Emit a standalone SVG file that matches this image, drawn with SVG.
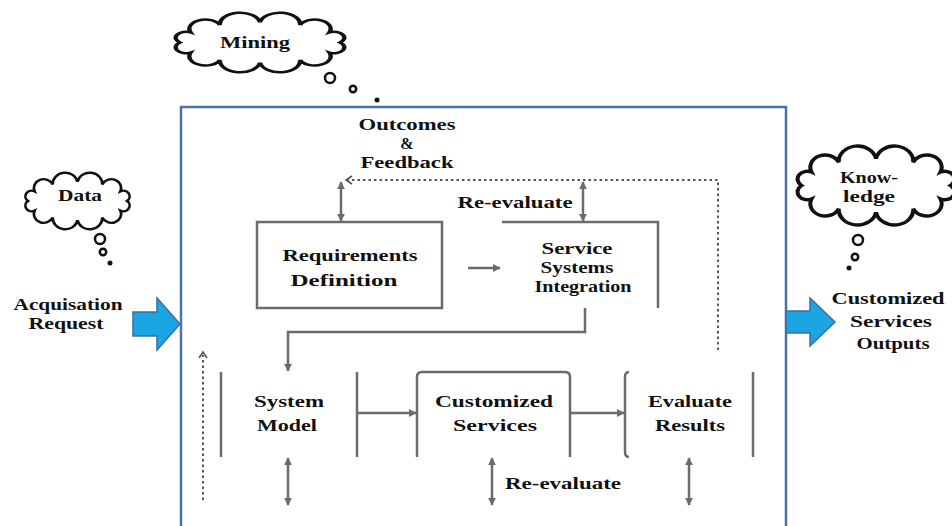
<svg xmlns="http://www.w3.org/2000/svg" width="952" height="526" viewBox="0 0 952 526">
<defs>
<style>
text { font-family: "Liberation Serif", "Times New Roman", serif; font-weight: bold; font-size: 17px; fill: #111; text-anchor: middle; }
text.s { font-size: 16px; }
.cloud { fill: #fff; stroke: #111; stroke-width: 2.5; vector-effect: non-scaling-stroke; }
.ln { fill: none; stroke: #6b6b6b; stroke-width: 2.5; }
.dot { fill: none; stroke: #555; stroke-width: 2; stroke-dasharray: 2.5 3; }
.chev { fill: none; stroke: #555; stroke-width: 1.6; }
.bub { fill: #fff; stroke: #111; stroke-width: 2.5; }
.bubf { fill: #111; }
.blue { fill: #1ba5e2; stroke: #3b6ea5; stroke-width: 1.5; }
.frame { fill: none; stroke: #4a72ad; stroke-width: 2.5; }
</style>
<path id="cloudShape" d="M46,0 A5.9,5.9 0 0 1 39.8,10 A9.1,9.1 0 0 1 23,17.3 A11.6,11.6 0 0 1 0,20 A11.6,11.6 0 0 1 -23,17.3 A9.1,9.1 0 0 1 -39.8,10 A5.9,5.9 0 0 1 -46,0 A5.9,5.9 0 0 1 -39.8,-10 A9.1,9.1 0 0 1 -23,-17.3 A11.6,11.6 0 0 1 0,-20 A11.6,11.6 0 0 1 23,-17.3 A9.1,9.1 0 0 1 39.8,-10 A5.9,5.9 0 0 1 46,0 Z"/>
<marker id="ah" viewBox="0 0 10 10" refX="9" refY="5" markerWidth="3.2" markerHeight="3.2" orient="auto-start-reverse">
<path d="M0,0 L10,5 L0,10 z" fill="#6b6b6b"/>
</marker>
</defs>

<rect width="952" height="526" fill="#fff"/>

<g id="frame">
<path class="frame" d="M181,530 V107 H786 V530"/>
</g>

<g id="mining">
<use href="#cloudShape" class="cloud" transform="translate(260,42.5) scale(1.742,1.007)"/>
<text x="255" y="48" textLength="70" lengthAdjust="spacingAndGlyphs">Mining</text>
<circle class="bub" cx="330" cy="78" r="5"/>
<circle class="bub" cx="353" cy="89" r="3.2"/>
<circle class="bubf" cx="377" cy="100" r="2.5"/>
</g>

<g id="data">
<use href="#cloudShape" class="cloud" transform="translate(77.5,201) scale(1.076,0.957)"/>
<text x="80" y="201" textLength="44" lengthAdjust="spacingAndGlyphs">Data</text>
<circle class="bub" cx="100" cy="239" r="5"/>
<circle class="bub" cx="103" cy="252" r="3.2"/>
<circle class="bubf" cx="110" cy="263" r="2.5"/>
</g>

<g id="knowledge">
<use href="#cloudShape" class="cloud" transform="translate(876,185.5) scale(1.619,1.337)"/>
<text x="869" y="183" textLength="58" lengthAdjust="spacingAndGlyphs">Know-</text>
<text x="869" y="202" textLength="52" lengthAdjust="spacingAndGlyphs">ledge</text>
<circle class="bub" cx="858" cy="240" r="5"/>
<circle class="bub" cx="855" cy="257" r="3.2"/>
<circle class="bubf" cx="849" cy="268" r="2.5"/>
</g>

<g id="acquisition">
<text class="s" x="68" y="310" textLength="109" lengthAdjust="spacingAndGlyphs">Acquisation</text>
<text class="s" x="66" y="329" textLength="75" lengthAdjust="spacingAndGlyphs">Request</text>
<polygon class="blue" points="133,312 157,312 157,298 180,324 157,350 157,336 133,336"/>
</g>

<g id="outputs">
<polygon class="blue" points="786,311 810,311 810,298 835,322 810,346 810,333 786,333"/>
<text x="888" y="304" textLength="113" lengthAdjust="spacingAndGlyphs">Customized</text>
<text x="891" y="327" textLength="82" lengthAdjust="spacingAndGlyphs">Services</text>
<text x="893" y="349" textLength="73" lengthAdjust="spacingAndGlyphs">Outputs</text>
</g>

<g id="outcomes">
<text class="s" x="407" y="130" textLength="97" lengthAdjust="spacingAndGlyphs">Outcomes</text>
<text class="s" x="407" y="149">&amp;</text>
<text class="s" x="407" y="168" textLength="93" lengthAdjust="spacingAndGlyphs">Feedback</text>
</g>

<g id="requirements">
<rect class="ln" x="257" y="222" width="185" height="86"/>
<text x="350" y="261" textLength="135" lengthAdjust="spacingAndGlyphs">Requirements</text>
<text x="344" y="286" textLength="107" lengthAdjust="spacingAndGlyphs">Definition</text>
</g>

<g id="integration">
<path class="ln" d="M502,222 H658 V308"/>
<text class="s" x="577" y="254" textLength="71" lengthAdjust="spacingAndGlyphs">Service</text>
<text class="s" x="577" y="273" textLength="73" lengthAdjust="spacingAndGlyphs">Systems</text>
<text class="s" x="583" y="292" textLength="97" lengthAdjust="spacingAndGlyphs">Integration</text>
</g>

<g id="system-model">
<path class="ln" d="M221,372 V457 M357,372 V457"/>
<text x="289" y="407" textLength="70" lengthAdjust="spacingAndGlyphs">System</text>
<text x="287" y="431" textLength="60" lengthAdjust="spacingAndGlyphs">Model</text>
</g>

<g id="customized-services">
<path class="ln" d="M417,457 V377 Q417,372 422,372 H565 Q570,372 570,377 V457"/>
<text x="494" y="407" textLength="118" lengthAdjust="spacingAndGlyphs">Customized</text>
<text x="495" y="431" textLength="84" lengthAdjust="spacingAndGlyphs">Services</text>
</g>

<g id="evaluate-results">
<path class="ln" d="M629,372 Q625,372 625,377 V452 Q625,457 629,457 M753,372 V457"/>
<text x="690" y="407" textLength="84" lengthAdjust="spacingAndGlyphs">Evaluate</text>
<text x="690" y="431" textLength="70" lengthAdjust="spacingAndGlyphs">Results</text>
</g>

<g id="connectors">
<path class="dot" d="M718,350 V180 H348"/>
<path class="chev" d="M352,176 L346,180 L352,184"/>
<path class="dot" d="M203,500 V355"/>
<path class="chev" d="M199,358 L203,352 L207,358"/>
<line class="ln" x1="341" y1="182" x2="341" y2="221" marker-start="url(#ah)" marker-end="url(#ah)"/>
<line class="ln" x1="583" y1="182" x2="583" y2="221" marker-start="url(#ah)" marker-end="url(#ah)"/>
<line class="ln" x1="468" y1="268" x2="500" y2="268" stroke-width="1.8" marker-end="url(#ah)"/>
<path class="ln" d="M585,308 V332 H288 V371" marker-end="url(#ah)"/>
<line class="ln" x1="357" y1="413" x2="416" y2="413" marker-end="url(#ah)"/>
<line class="ln" x1="570" y1="413" x2="624" y2="413" marker-end="url(#ah)"/>
<line class="ln" x1="288" y1="458" x2="288" y2="505" marker-start="url(#ah)" marker-end="url(#ah)"/>
<line class="ln" x1="492" y1="458" x2="492" y2="505" marker-start="url(#ah)" marker-end="url(#ah)"/>
<line class="ln" x1="689" y1="458" x2="689" y2="505" marker-start="url(#ah)" marker-end="url(#ah)"/>
<text x="515" y="208" textLength="115" lengthAdjust="spacingAndGlyphs">Re-evaluate</text>
<text x="563" y="489" textLength="116" lengthAdjust="spacingAndGlyphs">Re-evaluate</text>
</g>
</svg>
